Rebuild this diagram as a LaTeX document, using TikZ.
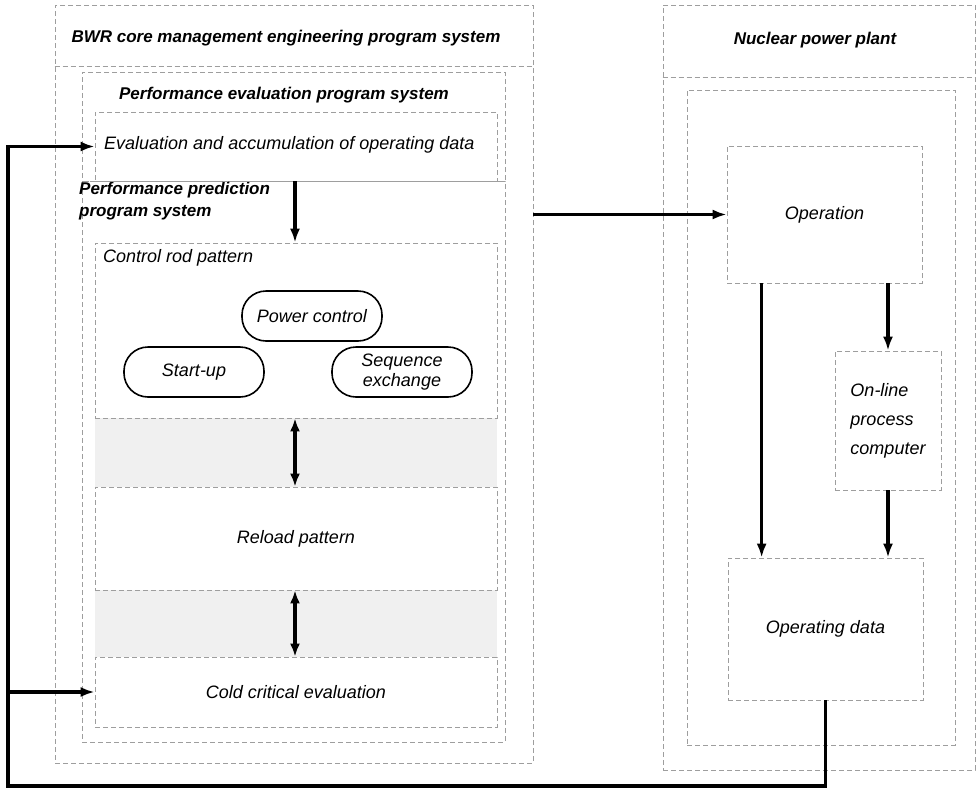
\documentclass[tikz,border=0pt]{standalone}
\usepackage{fontspec}
\setmainfont{Liberation Sans}
\usetikzlibrary{arrows.meta,calc}
\newcommand{\txf}{\fontsize{18}{20}\selectfont\itshape}
\newcommand{\hdf}{\fontsize{17}{22}\selectfont\bfseries\itshape}
\tikzset{
  frame/.style={draw=black!38, line width=0.7pt, dash pattern=on 5pt off 3pt},
  band/.style={fill=black!6, draw=none},
  box/.style={frame, inner sep=0pt, font=\txf, align=center},
  pill/.style={draw=black, line width=1.6pt, rounded corners=24pt, minimum width=140pt,
    minimum height=50pt, font=\txf, align=center, inner sep=0pt},
  lbl/.style={inner sep=0pt, font=\txf, align=left},
  hdr/.style={inner sep=0pt, font=\hdf, align=left},
  flow/.style={line width=3.6pt, -{Latex[length=14pt,width=10pt]}},
  both/.style={line width=3.6pt, {Latex[length=13pt,width=10pt]}-{Latex[length=13pt,width=10pt]}}
}
\begin{document}
\begin{tikzpicture}[x=1pt,y=-1pt]
\useasboundingbox (0,0) rectangle (978,793);
\fill[white] (0,0) rectangle (978,793);
% frames
\node[frame, minimum width=478pt, minimum height=758pt, inner sep=0pt] (leftframe) at (294,384) {};
\node[frame, minimum width=423pt, minimum height=109pt, inner sep=0pt] (evalframe) at (293.5,126.5) {};
\node[frame, minimum width=423pt, minimum height=561pt, inner sep=0pt] (predframe) at (293.5,461.5) {};
\node[frame, minimum width=312pt, minimum height=765pt, inner sep=0pt] (rightframe) at (819,387.5) {};
\node[frame, minimum width=268pt, minimum height=655pt, inner sep=0pt] (plantframe) at (821,417.5) {};
\draw[frame] (leftframe.west |- 0,66) -- (leftframe.east |- 0,66);
\draw[frame] (rightframe.west |- 0,77) -- (rightframe.east |- 0,77);
% bands
\fill[band] (95,418) rectangle (497,487);
\fill[band] (95,590) rectangle (497,657);
% headers
\node[hdr] (t1) at (286,38) {BWR core management engineering program system};
\node[hdr] (t2) at (284,95) {Performance evaluation program system};
\node[hdr, anchor=west] (t3) at (79,201) {Performance prediction\\program system};
\node[hdr] (t4) at (815,40) {Nuclear power plant};
% left boxes
\node[box, minimum width=402pt, minimum height=69pt, fill=white] (eval) at (296,146.5) {};
\node[lbl, anchor=west] (evaltxt) at (104,145) {Evaluation and accumulation of operating data};
\node[box, minimum width=402pt, minimum height=175pt, fill=white] (ctrl) at (296,330.5) {};
\node[lbl, anchor=west] (ctrltxt) at (103,258) {Control rod pattern};
\node[pill] (power) at (312,316) {Power control};
\node[pill] (start) at (194,372) {Start-up};
\node[pill] (seq) at (402,372) {Sequence\\exchange};
\node[box, minimum width=402pt, minimum height=103pt, fill=white] (reload) at (296,538.5) {Reload pattern};
\node[box, minimum width=402pt, minimum height=70pt, fill=white] (cold) at (296,692) {Cold critical evaluation};
% right boxes
\node[box, minimum width=195pt, minimum height=137pt, fill=white] (operation) at (824.5,214.5) {Operation};
\node[box, minimum width=106pt, minimum height=139pt, fill=white, align=left, font=\fontsize{18}{29}\selectfont\itshape] (online) at (888,420.5) {On-line\\process\\computer};
\node[box, minimum width=195pt, minimum height=142pt, fill=white] (opdata) at (825.5,629) {Operating data};
% connectors
\draw[flow] ([xshift=-1pt]eval.south) -- ([xshift=-1pt]ctrl.north);
\draw[both] ([xshift=-1pt]ctrl.south) -- ([xshift=-1pt]reload.north);
\draw[both] ([xshift=-1pt]reload.south) -- ([xshift=-1pt]cold.north);
\draw[flow] (operation.west -| leftframe.east) -- (operation.west);
\draw[flow] ([xshift=35pt]operation.south west) -- ([xshift=34pt]opdata.north west);
\draw[flow] (operation.south -| online.north) -- (online.north);
\draw[flow] (online.south) -- (opdata.north -| online.south);
\coordinate (bl) at (8,786);
\coordinate (jc) at (bl |- cold.west);
\draw[flow] (opdata.south) |- (bl) |- (eval.west);
\draw[flow] (jc) -- (cold.west);
\end{tikzpicture}
\end{document}
